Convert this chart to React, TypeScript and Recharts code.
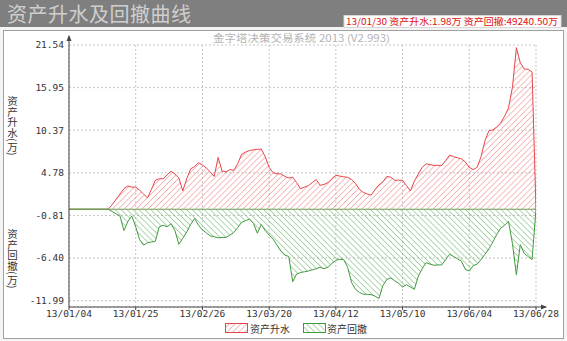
import React from 'react';
import { ComposedChart, Area, XAxis, YAxis, CartesianGrid, ReferenceLine } from 'recharts';

// 资产升水 (万), one value per trading day
const rise = [
  0, 0, 0, 0, 0, 0, 0, 0, 0, 0,
  0, 0.6, 1.3, 2.0, 2.7, 3.06, 2.9, 2.9, 2.5, 2.0,
  1.5, 2.6, 3.8, 4.0, 4.0, 4.5, 5.0, 4.6, 4.1, 2.4,
  4.0, 5.3, 5.6, 6.1, 5.8, 5.4, 4.9, 4.3, 6.8, 5.0,
  4.9, 5.2, 5.1, 6.0, 7.2, 7.5, 7.7, 7.8, 7.85, 7.9,
  6.9, 5.5, 4.8, 4.65, 4.65, 4.3, 4.1, 4.2, 3.5, 2.7,
  2.9, 3.1, 3.5, 3.9, 3.15, 3.25, 3.5, 4.0, 4.45, 4.35,
  4.25, 4.2, 3.9, 3.4, 2.6, 2.2, 2.0, 1.85, 2.6, 3.2,
  3.6, 4.3, 4.2, 3.8, 3.8, 3.8, 3.1, 2.4, 3.7, 4.6,
  5.5, 5.95, 5.85, 5.75, 5.75, 5.75, 6.4, 7.1, 6.9, 6.75,
  6.6, 6.2, 5.5, 5.2, 5.5, 6.9, 9.0, 10.3, 10.4, 10.8,
  11.3, 12.2, 13.3, 16.0, 21.2, 19.2, 18.4, 18.35, 18.0, 0,
];

// 资产回撤 (万)
const fall = [
  0, 0, 0, 0, 0, 0, 0, 0, 0, 0,
  0, -0.3, -0.6, -0.9, -2.8, -1.6, -0.9, -2.3, -4.0, -4.7,
  -4.4, -4.3, -4.2, -2.3, -2.1, -2.3, -1.9, -2.8, -4.6, -3.8,
  -3.0, -2.0, -1.2, -2.1, -2.7, -3.1, -3.5, -3.6, -3.75, -3.7,
  -3.7, -3.4, -3.05, -2.4, -1.7, -1.5, -1.3, -1.85, -3.15, -2.0,
  -2.8, -3.4, -3.9, -4.7, -5.5, -6.0, -6.2, -9.5, -8.5, -8.3,
  -8.2, -8.1, -7.95, -7.8, -7.6, -7.8, -7.6, -7.1, -6.7, -6.55,
  -6.6, -7.6, -9.6, -10.5, -10.9, -11.15, -11.15, -11.2, -11.4, -11.7,
  -10.0, -9.2, -9.0, -9.4, -9.7, -10.2, -9.9, -10.2, -10.5, -8.8,
  -7.8, -7.0, -7.2, -7.35, -7.3, -7.3, -6.6, -5.9, -6.2, -6.5,
  -6.8, -7.9, -8.1, -7.4, -7.2, -6.6, -5.9, -5.2, -4.3, -3.3,
  -2.5, -2.1, -1.6, -4.5, -8.6, -4.65, -5.8, -6.2, -6.6, 0,
];

const tickIdx = [0, 17, 34, 51, 68, 85, 102, 119];
const tickLabels = ['13/01/04', '13/01/25', '13/02/26', '13/03/20', '13/04/12', '13/05/10', '13/06/04', '13/06/28'];
const yTicks = [21.54, 15.95, 10.37, 4.78, -0.81, -6.4, -11.99];

const data = rise.map((v, i) => ({ i, rise: v, fall: fall[i] }));

const RED = '#e8454a';
const GREEN = '#3f9a3f';
const cjk = '"Noto Sans CJK SC", sans-serif';
const mono = '"DejaVu Sans Mono", monospace';

function Hatch({ id, color, angle }: { id: string; color: string; angle: number }) {
  return (
    <pattern id={id} width={4.2} height={4.2} patternUnits="userSpaceOnUse" patternTransform={`rotate(${angle})`}>
      <line x1={0} y1={0} x2={0} y2={4.2} stroke={color} strokeWidth={1} />
    </pattern>
  );
}

export default function App() {
  return (
    <div style={{ position: 'relative', width: 567, height: 341, background: '#f4f4f4', overflow: 'hidden' }}>
      <style>{'body{margin:0}'}</style>
      {/* title bar */}
      <div style={{ position: 'absolute', left: 0, top: 0, width: 567, height: 27, background: '#7f7f7f' }} />
      <div style={{ position: 'absolute', left: 7, top: 1, fontFamily: cjk, fontSize: 20, color: '#cfcfcf', lineHeight: '26px', letterSpacing: 0.5 }}>
        资产升水及回撤曲线
      </div>
      {/* panel */}
      <div style={{ position: 'absolute', left: 3, top: 30, width: 559, height: 307, background: '#fff', border: '1px solid #a0a0a0' }} />

      <div style={{ position: 'absolute', left: 0, top: 0 }}>
        <ComposedChart width={567} height={341} data={data} margin={{ top: 45, right: 31, bottom: 14, left: 9 }}>
          <defs>
            <Hatch id="hatchRed" color="#ef7b7e" angle={45} />
            <Hatch id="hatchGreen" color="#5fae5f" angle={-45} />
          </defs>
          <CartesianGrid stroke="#c4c4c4" strokeDasharray="2 2" />
          <XAxis
            dataKey="i"
            type="number"
            domain={[0, 119]}
            ticks={tickIdx}
            interval={0}
            allowDataOverflow
            tickFormatter={(v) => tickLabels[tickIdx.indexOf(v)]}
            height={20}
            stroke="#444"
            tickSize={3}
            tickMargin={0}
            tick={{ fontSize: 9.5, fill: '#333', fontFamily: mono }}
          />
          <YAxis
            type="number"
            domain={[-12.82, 21.54]}
            ticks={yTicks}
            interval={0}
            allowDataOverflow
            width={60}
            stroke="#444"
            tickSize={0}
            tickMargin={5}
            tickFormatter={(v) => v.toFixed(2)}
            tick={{ fontSize: 9.5, fill: '#333', fontFamily: mono }}
          />
          <Area
            dataKey="rise"
            type="linear"
            baseValue={0}
            stroke={RED}
            strokeWidth={1}
            fill="url(#hatchRed)"
            fillOpacity={1}
            dot={false}
            activeDot={false}
            isAnimationActive={false}
          />
          <Area
            dataKey="fall"
            type="linear"
            baseValue={0}
            stroke={GREEN}
            strokeWidth={1}
            fill="url(#hatchGreen)"
            fillOpacity={1}
            dot={false}
            activeDot={false}
            isAnimationActive={false}
          />
          <ReferenceLine y={0} stroke="#6a9f55" strokeWidth={1} />
        </ComposedChart>
      </div>

      {/* overlay: info box, subtitle, axis titles, arrows, legend */}
      <svg width={567} height={341} style={{ position: 'absolute', left: 0, top: 0, pointerEvents: 'none' }}>
        <defs>
          <Hatch id="lgRed" color="#ef7b7e" angle={45} />
          <Hatch id="lgGreen" color="#5fae5f" angle={-45} />
        </defs>
        <rect x={344} y={15.5} width={217} height={12} fill="#fff" stroke="#d8d8d8" />
        <text x={346} y={25} fontSize={9.5} fill="#e01010" fontFamily={cjk} textLength={212} lengthAdjust="spacingAndGlyphs">
          13/01/30 资产升水:1.98万  资产回撤:49240.50万
        </text>
        <text x={213} y={42} fontSize={10} fill="#b4b4b4" fontFamily={cjk} textLength={177} lengthAdjust="spacingAndGlyphs">
          金字塔决策交易系统 2013 (V2.993)
        </text>
        {/* axis arrows */}
        <line x1={69} y1={45} x2={69} y2={36} stroke="#444" />
        <path d="M66.5,41 L69,35 L71.5,41 Z" fill="#444" />
        <line x1={536} y1={307} x2={546} y2={307} stroke="#444" />
        <path d="M541,304.5 L547,307 L541,309.5 Z" fill="#444" />
        {/* legend */}
        <rect x={225.5} y={323.5} width={22} height={9} fill="url(#lgRed)" stroke={RED} />
        <text x={250} y={332.5} fontSize={10} fill="#333" fontFamily={cjk}>资产升水</text>
        <rect x={303.5} y={323.5} width={22} height={9} fill="url(#lgGreen)" stroke={GREEN} />
        <text x={327} y={332.5} fontSize={10} fill="#333" fontFamily={cjk}>资产回撤</text>
      </svg>
      <div style={{ position: 'absolute', left: 6, top: 96, writingMode: 'vertical-rl', fontFamily: cjk, fontSize: 10.5, color: '#333', lineHeight: '12px' }}>
        资产升水(万)
      </div>
      <div style={{ position: 'absolute', left: 6, top: 229, writingMode: 'vertical-rl', fontFamily: cjk, fontSize: 10.5, color: '#333', lineHeight: '12px' }}>
        资产回撤(万)
      </div>
    </div>
  );
}
